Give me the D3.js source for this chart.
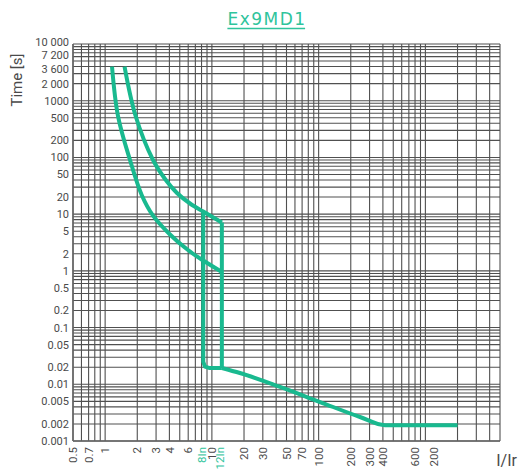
<!DOCTYPE html>
<html>
<head>
<meta charset="utf-8">
<script src="https://cdn.jsdelivr.net/npm/d3@7"></script>
<style>
  html, body { margin: 0; padding: 0; background: #fff; }
  svg { display: block; }
</style>
</head>
<body>
<svg id="chart" width="520" height="471"></svg>
<script>
// ---------------- DATA ----------------
const chartTitle = "Ex9MD1";
const yTitle = "Time [s]";
const xTitle = "I/Ir";

const xTickValues = [0.5, 0.7, 1, 2, 3, 4, 6, 8, 10, 12, 20, 30, 50, 70, 100, 200, 300, 400, 800, 1200];
const xTickLabels = ["0.5", "0.7", "1", "2", "3", "4", "6", "8In", "10", "12In", "20", "30", "50", "70", "100", "200", "300", "400", "600", "200"];
const xTickHighlight = ["8In", "12In"];

const yTickValues = [10000, 7200, 3600, 2000, 1000, 500, 200, 100, 50, 20, 10, 5, 2, 1, 0.5, 0.2, 0.1, 0.05, 0.02, 0.01, 0.005, 0.002, 0.001];
const yTickLabels = ["10 000", "7 200", "3 600", "2 000", "1000", "500", "200", "100", "50", "20", "10", "5", "2", "1", "0.5", "0.2", "0.1", "0.05", "0.02", "0.01", "0.005", "0.002", "0.001"];

// lower / left thermal curve  [I/Ir, t(s)]
const curveMinX = [1.16, 1.32, 1.71, 2.2, 2.81, 4.05, 5.97, 8.3, 12.4];
const curveMinT = [4000, 537, 90, 21.8, 9.4, 4.38, 2.33, 1.52, 0.955];

// upper / right thermal curve
const curveMaxX = [1.52, 1.93, 2.81, 3.64, 4.71, 6.24, 8.3, 12.4];
const curveMaxT = [4000, 537, 90, 41.7, 23.6, 15.4, 11.1, 7.12];

// magnetic part at 12In + tail
const tailX = [12.4, 12.4, 18.3, 43.5, 103, 244, 419, 2000];
const tailT = [7.12, 0.0194, 0.0158, 0.00896, 0.00487, 0.00265, 0.0019, 0.0019];

// magnetic part at 8In
const instX = [8.3, 8.3, 8.6, 9.4, 12.4];
const instT = [11.1, 0.025, 0.0205, 0.0194, 0.0194];

// ---------------- CHART ----------------
const svg = d3.select("#chart");
const green = "#19b98f";
const labelGreen = "#2fc49c";
const gridColor = "#505050";
const textColor = "#4a4a4a";

const x = d3.scaleLog().domain([0.5, 5000]).range([73, 500]);
const y = d3.scaleLog().domain([0.001, 10000]).range([441, 44]);

// grid values 1..9 per decade
function logGrid(lo, hi) {
  const out = [];
  for (let e = -4; e <= 5; e++) {
    for (let k = 1; k <= 9; k++) {
      const v = k * Math.pow(10, e);
      if (v >= lo * 0.9999 && v <= hi * 1.0001) out.push(v);
    }
  }
  return out;
}
const xGrid = logGrid(0.5, 5000);
const yGrid = logGrid(0.001, 10000);

const g = svg.append("g");

g.selectAll("line.vg").data(xGrid).join("line")
  .attr("class", "vg")
  .attr("x1", d => x(d)).attr("x2", d => x(d))
  .attr("y1", y(10000)).attr("y2", y(0.001))
  .attr("stroke", gridColor).attr("stroke-width", 1.1);

g.selectAll("line.hg").data(yGrid).join("line")
  .attr("class", "hg")
  .attr("x1", x(0.5)).attr("x2", x(5000))
  .attr("y1", d => y(d)).attr("y2", d => y(d))
  .attr("stroke", gridColor).attr("stroke-width", 1.1);

// axis lines
g.append("line").attr("x1", x(0.5)).attr("x2", x(0.5)).attr("y1", y(10000)).attr("y2", y(0.001))
  .attr("stroke", "#666").attr("stroke-width", 1.5);
g.append("line").attr("x1", x(0.5)).attr("x2", x(5000)).attr("y1", y(0.001)).attr("y2", y(0.001))
  .attr("stroke", "#666").attr("stroke-width", 1.5);

// y tick labels, with a minimum spacing so crowded labels at the top don't collide
const minGap = 12.5;
const yLabelPos = [];
yTickValues.forEach((v, i) => {
  let p = y(v) - (i === 0 ? 1.5 : 0);
  if (i > 0 && p < yLabelPos[i - 1] + minGap) p = yLabelPos[i - 1] + minGap;
  yLabelPos.push(p);
});

g.selectAll("text.yl").data(yTickValues).join("text")
  .attr("class", "yl")
  .attr("x", 69)
  .attr("y", (d, i) => yLabelPos[i])
  .attr("dy", "0.36em")
  .attr("text-anchor", "end")
  .attr("font-family", "Roboto, 'DejaVu Sans', sans-serif")
  .attr("font-size", 11)
  .attr("fill", textColor)
  .text((d, i) => yTickLabels[i]);

// x tick labels (rotated)
g.selectAll("text.xl").data(xTickValues).join("text")
  .attr("class", "xl")
  .attr("transform", d => `translate(${x(d)},447) rotate(-90)`)
  .attr("dy", "0.36em")
  .attr("text-anchor", "end")
  .attr("font-family", "Roboto, 'DejaVu Sans', sans-serif")
  .attr("font-size", 11.5)
  .attr("fill", (d, i) => xTickHighlight.includes(xTickLabels[i]) ? labelGreen : textColor)
  .text((d, i) => xTickLabels[i]);

// curves
const line = d3.line().x(d => x(d[0])).y(d => y(d[1]));
const smooth = d3.line().x(d => x(d[0])).y(d => y(d[1])).curve(d3.curveCatmullRom.alpha(0.5));
const zip = (a, b) => a.map((v, i) => [v, b[i]]);

const curveStyle = sel => sel.attr("fill", "none").attr("stroke", green)
  .attr("stroke-width", 4).attr("stroke-linejoin", "round").attr("stroke-linecap", "butt");

svg.append("path").attr("d", smooth(zip(curveMinX, curveMinT))).call(curveStyle);
svg.append("path").attr("d", smooth(zip(curveMaxX, curveMaxT))).call(curveStyle);
svg.append("path").attr("d", line(zip(instX, instT))).call(curveStyle);
svg.append("path").attr("d", line(zip(tailX.slice(0, 2), tailT.slice(0, 2)))).call(curveStyle);
svg.append("path").attr("d", d3.line().x(d => x(d[0])).y(d => y(d[1])).curve(d3.curveMonotoneX)(zip(tailX.slice(1), tailT.slice(1)))).call(curveStyle);

// titles
const t = svg.append("text")
  .attr("x", 267).attr("y", 25)
  .attr("text-anchor", "middle")
  .attr("font-family", "'DejaVu Sans', sans-serif")
  .attr("font-size", 17)
  .attr("letter-spacing", 1.5)
  .attr("fill", labelGreen)
  .text(chartTitle);
const bb = t.node().getBBox();
svg.append("line").attr("x1", bb.x).attr("x2", bb.x + bb.width - 1.5)
  .attr("y1", 28.5).attr("y2", 28.5).attr("stroke", labelGreen).attr("stroke-width", 1.5);

svg.append("text")
  .attr("transform", "translate(22,80) rotate(-90)")
  .attr("text-anchor", "middle")
  .attr("font-family", "Roboto, 'DejaVu Sans', sans-serif")
  .attr("font-size", 15)
  .attr("fill", textColor)
  .text(yTitle);

svg.append("text")
  .attr("x", 517).attr("y", 466)
  .attr("text-anchor", "end")
  .attr("font-family", "Roboto, 'DejaVu Sans', sans-serif")
  .attr("font-size", 16)
  .attr("fill", textColor)
  .text(xTitle);
</script>
</body>
</html>
